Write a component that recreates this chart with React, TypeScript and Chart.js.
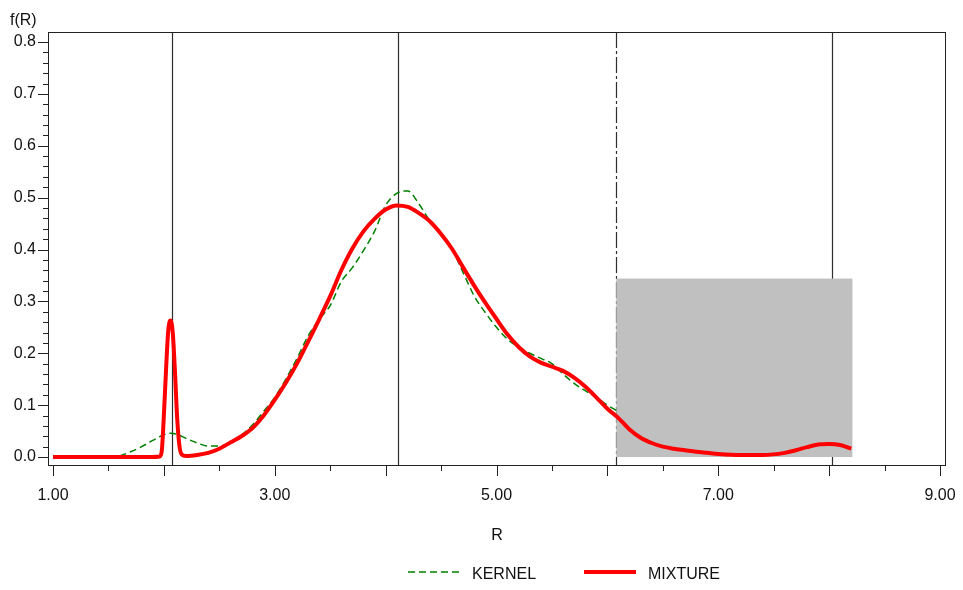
import React, { useEffect, useRef } from "react";
import { Chart, registerables } from "chart.js";

Chart.register(...registerables);

// ---- data ----
const mixtureR = [
  1.0, 1.5, 1.9, 1.96, 1.98, 2.0, 2.02, 2.04, 2.06, 2.08, 2.1, 2.12, 2.14, 2.16, 2.2,
  2.3, 2.4, 2.5, 2.6, 2.7, 2.8, 2.9, 3.0, 3.1, 3.2, 3.3, 3.4, 3.5, 3.6, 3.7, 3.8, 3.9,
  4.0, 4.1, 4.2, 4.3, 4.4, 4.5, 4.6, 4.7, 4.8, 4.9, 5.0, 5.1, 5.2, 5.3, 5.4, 5.5, 5.6,
  5.7, 5.8, 5.9, 6.0, 6.1, 6.2, 6.3, 6.4, 6.5, 6.6, 6.7, 6.8, 6.9, 7.0, 7.2, 7.4, 7.6,
  7.7, 7.8, 7.9, 8.0, 8.1, 8.2,
];
const mixtureF = [
  0, 0, 0, 0.001, 0.01, 0.08, 0.17, 0.245, 0.263, 0.24, 0.165, 0.075, 0.022, 0.005, 0.002,
  0.004, 0.008, 0.016, 0.028, 0.04, 0.056, 0.08, 0.11, 0.143, 0.18, 0.222, 0.265, 0.31,
  0.36, 0.402, 0.435, 0.459, 0.477, 0.485, 0.482, 0.47, 0.454, 0.43, 0.401, 0.365, 0.33,
  0.297, 0.266, 0.236, 0.212, 0.194, 0.182, 0.174, 0.166, 0.153, 0.136, 0.115, 0.093, 0.075,
  0.053, 0.037, 0.027, 0.02, 0.016, 0.013, 0.01, 0.008, 0.006, 0.004, 0.004, 0.008, 0.013,
  0.019, 0.024, 0.025, 0.023, 0.016,
];
const kernelR = [
  1.6, 1.7, 1.8, 1.9, 2.0, 2.06, 2.1, 2.2, 2.3, 2.4, 2.5, 2.6, 2.7, 2.8, 2.9, 3.0, 3.1,
  3.2, 3.3, 3.4, 3.5, 3.6, 3.7, 3.8, 3.9, 4.0, 4.1, 4.2, 4.3, 4.4, 4.5, 4.6, 4.7, 4.8,
  4.9, 5.0, 5.1, 5.2, 5.3, 5.4, 5.5, 5.6, 5.7, 5.8, 5.9, 6.0, 6.08,
];
const kernelF = [
  0.002, 0.01, 0.02, 0.032, 0.043, 0.046, 0.045, 0.036, 0.027, 0.021, 0.021, 0.028, 0.042,
  0.062, 0.088, 0.115, 0.15, 0.19, 0.233, 0.265, 0.292, 0.338, 0.365, 0.398, 0.435, 0.485,
  0.508, 0.513, 0.488, 0.455, 0.43, 0.4, 0.355, 0.31, 0.278, 0.25, 0.227, 0.212, 0.2, 0.19,
  0.18, 0.16, 0.142, 0.128, 0.115, 0.1, 0.09,
];

const xLabelTicks = [1, 3, 5, 7, 9];
const xMinorTicks = [1, 1.5, 2, 2.5, 3, 3.5, 4, 4.5, 5, 5.5, 6, 6.5, 7, 7.5, 8, 8.5, 9];
const yLabelTicks = [0, 0.1, 0.2, 0.3, 0.4, 0.5, 0.6, 0.7, 0.8];
const yMinorTicks = [
  0, 0.02, 0.04, 0.06, 0.08, 0.1, 0.12, 0.14, 0.16, 0.18, 0.2, 0.22, 0.24, 0.26, 0.28, 0.3,
  0.32, 0.34, 0.36, 0.38, 0.4, 0.42, 0.44, 0.46, 0.48, 0.5, 0.52, 0.54, 0.56, 0.58, 0.6,
  0.62, 0.64, 0.66, 0.68, 0.7, 0.72, 0.74, 0.76, 0.78, 0.8,
];

const refLines = [2.07, 4.11, 6.08, 8.03];
const refLineDashed = [false, false, true, false];
const boxR = [6.08, 8.21];
const boxF = [0, 0.344];

const yAxisTitle = "f(R)";
const xAxisTitle = "R";
const seriesNames = ["KERNEL", "MIXTURE"];

const FONT = "'Liberation Sans', Arial, Helvetica, sans-serif";

const decorPlugin = {
  id: "decor",
  beforeDatasetsDraw(chart: any) {
    const { ctx, chartArea: a, scales } = chart;
    const x = scales.x;
    const y = scales.y;
    ctx.save();
    ctx.strokeStyle = "#2e2e2e";
    ctx.lineWidth = 1.2;
    refLines.forEach((r, i) => {
      const px = Math.round(x.getPixelForValue(r)) + 0.5;
      ctx.setLineDash(refLineDashed[i] ? [16, 3, 3, 3] : []);
      ctx.beginPath();
      ctx.moveTo(px, a.top);
      ctx.lineTo(px, a.bottom);
      ctx.stroke();
    });
    ctx.setLineDash([]);
    const x0 = x.getPixelForValue(boxR[0]);
    const x1 = x.getPixelForValue(boxR[1]);
    const y0 = y.getPixelForValue(boxF[0]);
    const y1 = y.getPixelForValue(boxF[1]);
    ctx.fillStyle = "#c0c0c0";
    ctx.fillRect(x0, y1, x1 - x0, y0 - y1);
    ctx.restore();
  },
  afterDraw(chart: any) {
    const { ctx, chartArea: a, scales } = chart;
    const x = scales.x;
    const y = scales.y;
    ctx.save();
    // frame
    ctx.strokeStyle = "#222";
    ctx.lineWidth = 1;
    ctx.strokeRect(a.left + 0.5, a.top + 0.5, a.width - 1, a.height - 1);
    // y ticks
    yMinorTicks.forEach((v) => {
      const py = Math.round(y.getPixelForValue(v)) + 0.5;
      const major = yLabelTicks.some((t) => Math.abs(t - v) < 1e-9);
      const len = major ? 10 : 5;
      ctx.beginPath();
      ctx.moveTo(a.left - len, py);
      ctx.lineTo(a.left, py);
      ctx.stroke();
    });
    // x ticks
    xMinorTicks.forEach((v) => {
      const px = Math.round(x.getPixelForValue(v)) + 0.5;
      const major = Number.isInteger(v);
      const len = major ? 10 : 5;
      ctx.beginPath();
      ctx.moveTo(px, a.bottom);
      ctx.lineTo(px, a.bottom + len);
      ctx.stroke();
    });
    // y axis title
    ctx.fillStyle = "#111";
    ctx.font = `16px ${FONT}`;
    ctx.textAlign = "left";
    ctx.textBaseline = "middle";
    ctx.fillText(yAxisTitle, 10, 21);
    // legend
    const lineLen = 52;
    const textGap = 12;
    const itemGap = 48;
    let cx = 408;
    const ly = 572;
    chart.data.datasets.forEach((ds: any) => {
      ctx.strokeStyle = ds.borderColor;
      ctx.lineWidth = ds.borderWidth;
      ctx.setLineDash(ds.borderDash || []);
      ctx.beginPath();
      ctx.moveTo(cx, ly);
      ctx.lineTo(cx + lineLen, ly);
      ctx.stroke();
      ctx.setLineDash([]);
      cx += lineLen + textGap;
      ctx.fillStyle = "#111";
      ctx.fillText(ds.label, cx, ly + 3);
      cx += ctx.measureText(ds.label).width + itemGap;
    });
    ctx.restore();
  },
};

export default function App() {
  const ref = useRef<HTMLCanvasElement | null>(null);

  useEffect(() => {
    if (!ref.current) return;
    Chart.defaults.font.family = FONT;
    Chart.defaults.font.size = 16;
    Chart.defaults.color = "#111";

    const chart = new Chart(ref.current, {
      type: "line",
      data: {
        datasets: [
          {
            label: seriesNames[0],
            data: kernelR.map((r, i) => ({ x: r, y: kernelF[i] })),
            borderColor: "#008000",
            borderWidth: 1.5,
            borderDash: [7, 4],
            pointRadius: 0,
            cubicInterpolationMode: "monotone",
            fill: false,
            order: 2,
          },
          {
            label: seriesNames[1],
            data: mixtureR.map((r, i) => ({ x: r, y: mixtureF[i] })),
            borderColor: "#ff0000",
            borderWidth: 4,
            pointRadius: 0,
            cubicInterpolationMode: "monotone",
            fill: false,
            order: 1,
          },
        ],
      },
      options: {
        animation: false,
        responsive: false,
        devicePixelRatio: 1,
        layout: { padding: { top: 32, right: 17, left: 0, bottom: 0 } },
        plugins: {
          legend: { display: false },
          tooltip: { enabled: false },
        },
        scales: {
          x: {
            type: "linear",
            min: 1 - 5 / 111,
            max: 9 + 6 / 111,
            grid: { display: false, drawTicks: false },
            border: { display: false },
            afterFit: (s: any) => {
              s.height = 124;
              s.paddingLeft = 0;
              s.paddingRight = 0;
            },
            afterBuildTicks: (s: any) => {
              s.ticks = xLabelTicks.map((v) => ({ value: v }));
            },
            ticks: {
              autoSkip: false,
              maxRotation: 0,
              padding: 20,
              color: "#111",
              callback: (v: any) => Number(v).toFixed(2),
            },
            title: {
              display: true,
              text: xAxisTitle,
              color: "#111",
              padding: { top: 0, bottom: 45 },
            },
          },
          y: {
            type: "linear",
            min: -9 / 518.75,
            max: 0.8 + 10 / 518.75,
            grid: { display: false, drawTicks: false },
            border: { display: false },
            afterFit: (s: any) => {
              s.width = 48;
              s.paddingTop = 0;
              s.paddingBottom = 0;
            },
            afterBuildTicks: (s: any) => {
              s.ticks = yLabelTicks.map((v) => ({ value: v }));
            },
            ticks: {
              padding: 12,
              color: "#111",
              callback: (v: any) => Number(v).toFixed(1),
            },
          },
        },
      },
      plugins: [decorPlugin],
    } as any);

    return () => chart.destroy();
  }, []);

  return (
    <div style={{ position: "fixed", left: 0, top: 0, width: 963, height: 590, background: "#fff" }}>
      <canvas ref={ref} width={963} height={590} style={{ display: "block" }} />
    </div>
  );
}
